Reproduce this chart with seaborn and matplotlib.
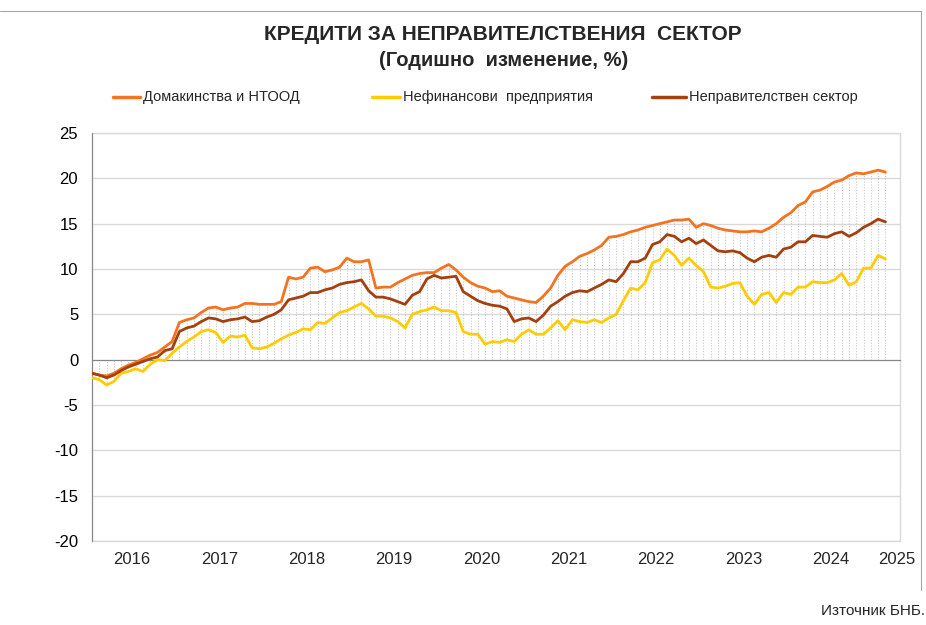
import matplotlib.pyplot as plt
import matplotlib.transforms as mtransforms
from matplotlib.lines import Line2D
from matplotlib.patches import Rectangle
import numpy as np
import pandas as pd
import seaborn as sns

# monthly data, Jan 2016 - Feb 2025 (annual change, %)
households = [
    -1.5, -1.7, -1.8, -1.5, -1.0, -0.6, -0.3, 0.1, 0.5, 0.8, 1.4, 2.0,
    4.1, 4.4, 4.6, 5.2, 5.7, 5.8, 5.5, 5.7, 5.8, 6.2, 6.2, 6.1,
    6.1, 6.1, 6.4, 9.1, 8.9, 9.1, 10.1, 10.2, 9.7, 9.9, 10.2, 11.2,
    10.8, 10.8, 11.0, 7.9, 8.0, 8.0, 8.5, 8.9, 9.3, 9.5, 9.6, 9.6,
    10.1, 10.5, 9.9, 9.1, 8.5, 8.1, 7.9, 7.5, 7.6, 7.0, 6.8, 6.6,
    6.4, 6.3, 7.0, 7.9, 9.3, 10.3, 10.8, 11.4, 11.7, 12.1, 12.6, 13.5,
    13.6, 13.8, 14.1, 14.3, 14.6, 14.8, 15.0, 15.2, 15.4, 15.4, 15.5, 14.6,
    15.0, 14.8, 14.5, 14.3, 14.2, 14.1, 14.1, 14.2, 14.1, 14.5, 15.0, 15.7,
    16.2, 17.0, 17.4, 18.5, 18.7, 19.1, 19.6, 19.8, 20.3, 20.6, 20.5, 20.7,
    20.9, 20.7,
]
companies = [
    -2.0, -2.2, -2.8, -2.4, -1.5, -1.3, -1.0, -1.3, -0.5, 0.0, -0.1, 0.7,
    1.4, 2.0, 2.5, 3.1, 3.3, 3.0, 1.9, 2.6, 2.5, 2.7, 1.3, 1.2,
    1.4, 1.8, 2.3, 2.7, 3.0, 3.4, 3.3, 4.1, 4.0, 4.6, 5.2, 5.4,
    5.8, 6.2, 5.6, 4.8, 4.8, 4.6, 4.2, 3.5, 5.0, 5.3, 5.5, 5.8,
    5.4, 5.4, 5.2, 3.1, 2.8, 2.8, 1.7, 2.0, 1.9, 2.2, 2.0, 2.8,
    3.3, 2.8, 2.8, 3.5, 4.3, 3.3, 4.4, 4.2, 4.1, 4.4, 4.1, 4.6,
    5.0, 6.5, 7.9, 7.7, 8.5, 10.7, 11.0, 12.2, 11.5, 10.4, 11.2, 10.4,
    9.7, 8.0, 7.9, 8.1, 8.4, 8.5, 7.0, 6.1, 7.2, 7.4, 6.3, 7.4,
    7.2, 8.0, 8.0, 8.6, 8.5, 8.5, 8.8, 9.5, 8.2, 8.6, 10.1, 10.1,
    11.5, 11.1,
]
total = [
    -1.5, -1.7, -2.0, -1.7, -1.2, -0.8, -0.5, -0.2, 0.1, 0.3, 1.0, 1.2,
    3.1, 3.5, 3.7, 4.2, 4.6, 4.5, 4.2, 4.4, 4.5, 4.7, 4.2, 4.3,
    4.7, 5.0, 5.5, 6.6, 6.8, 7.0, 7.4, 7.4, 7.7, 7.9, 8.3, 8.5,
    8.6, 8.8, 7.6, 6.9, 6.9, 6.7, 6.4, 6.1, 7.1, 7.5, 8.9, 9.3,
    9.0, 9.1, 9.2, 7.5, 7.0, 6.5, 6.2, 6.0, 5.9, 5.6, 4.2, 4.5,
    4.6, 4.2, 4.9, 5.9, 6.4, 7.0, 7.4, 7.6, 7.5, 7.9, 8.3, 8.8,
    8.6, 9.5, 10.8, 10.8, 11.2, 12.7, 13.0, 13.8, 13.6, 13.0, 13.4, 12.8,
    13.2, 12.6, 12.0, 11.9, 12.0, 11.8, 11.2, 10.8, 11.3, 11.5, 11.3, 12.2,
    12.4, 13.0, 13.0, 13.7, 13.6, 13.5, 13.9, 14.1, 13.6, 14.0, 14.6, 15.0,
    15.5, 15.2,
]
years = ['2016', '2017', '2018', '2019', '2020', '2021', '2022', '2023', '2024', '2025']
series_names = ['Домакинства и НТООД', 'Нефинансови  предприятия', 'Неправителствен сектор']
colors = ['#F47321', '#FFCC00', '#A4400F']

n = len(households)
df = pd.DataFrame({
    'month': np.arange(n),
    series_names[0]: households,
    series_names[1]: companies,
    series_names[2]: total,
})
long_df = df.melt(id_vars='month', var_name='series', value_name='value')

sns.set_style('white')
plt.rcParams['font.family'] = ['Arial', 'Liberation Sans', 'DejaVu Sans']
plt.rcParams['axes.unicode_minus'] = False

fig = plt.figure(figsize=(9.26, 6.25), dpi=100)
ax = fig.add_axes([0.0994, 0.1344, 0.8725, 0.6528])

# drop lines from the highest value down to the axis
vals = df[series_names].to_numpy()
top = np.maximum(vals.max(axis=1), 0)
bottom = np.minimum(vals.min(axis=1), 0)
ax.vlines(df['month'], bottom, top, colors='#c8c8c8', linestyles=(0, (1, 1.5)), linewidth=0.8, zorder=1)

sns.lineplot(data=long_df, x='month', y='value', hue='series', palette=colors,
             hue_order=series_names, linewidth=2.0, ax=ax, legend=False, zorder=3)

ax.set_xlim(0, 111)
ax.set_ylim(-20, 25)
ax.set_yticks(range(-20, 26, 5))
ax.yaxis.grid(True, color='#d9d9d9', linewidth=1)
ax.set_xlabel('')
ax.set_ylabel('')
ax.tick_params(axis='y', labelsize=12, length=4, color='#868686', colors='#000000', pad=6)

# category axis crosses at zero
ax.spines['bottom'].set_position(('data', 0))
ax.spines['bottom'].set_color('#868686')
ax.spines['left'].set_color('#868686')
ax.spines['top'].set_visible(False)
ax.spines['right'].set_visible(False)
ax.set_xticks(range(0, 112, 12))
ax.set_xticks(range(0, 112), minor=True)
ax.tick_params(axis='x', which='major', length=7, direction='inout', color='#868686', labelbottom=False)
ax.tick_params(axis='x', which='minor', length=4, direction='out', color='#868686')
ax.add_patch(Rectangle((0, 0), 1, 1, transform=ax.transAxes, fill=False,
                       edgecolor='#d9d9d9', linewidth=1, clip_on=False, zorder=0))

# year labels below plot area
trans = mtransforms.blended_transform_factory(ax.transData, ax.transAxes)
for k, y in enumerate(years):
    x = 12 * k + 5.5 if k < len(years) - 1 else 110.5
    ax.text(x, -0.045, y, transform=trans, ha='center', va='center', fontsize=12)

fig.text(0.543, 0.944, 'КРЕДИТИ ЗА НЕПРАВИТЕЛСТВЕНИЯ  СЕКТОР', ha='center', va='center',
         fontsize=15, fontweight='bold')
fig.text(0.544, 0.903, '(Годишно  изменение, %)', ha='center', va='center',
         fontsize=14.5, fontweight='bold')

# legend row, placed by hand
leg_y = 0.845
leg_x = [(113, 140), (372, 400), (652, 686)]
for (x0, x1), c, name in zip(leg_x, colors, series_names):
    fig.add_artist(Line2D([x0 / 926, x1 / 926], [leg_y, leg_y], color=c, linewidth=2.5))
    fig.text((x1 + 3) / 926, leg_y, name, ha='left', va='center', fontsize=10.5)

# outer chart border (top and right edges visible in the crop)
fig.add_artist(Line2D([0, 921 / 926, 921 / 926], [1 - 11 / 625, 1 - 11 / 625, 1 - 590 / 625],
                      color='#a6a6a6', linewidth=0.8))

fig.text(0.999, 0.022, 'Източник БНБ.', ha='right', va='center', fontsize=11)

fig.savefig('out.png', dpi=100)
